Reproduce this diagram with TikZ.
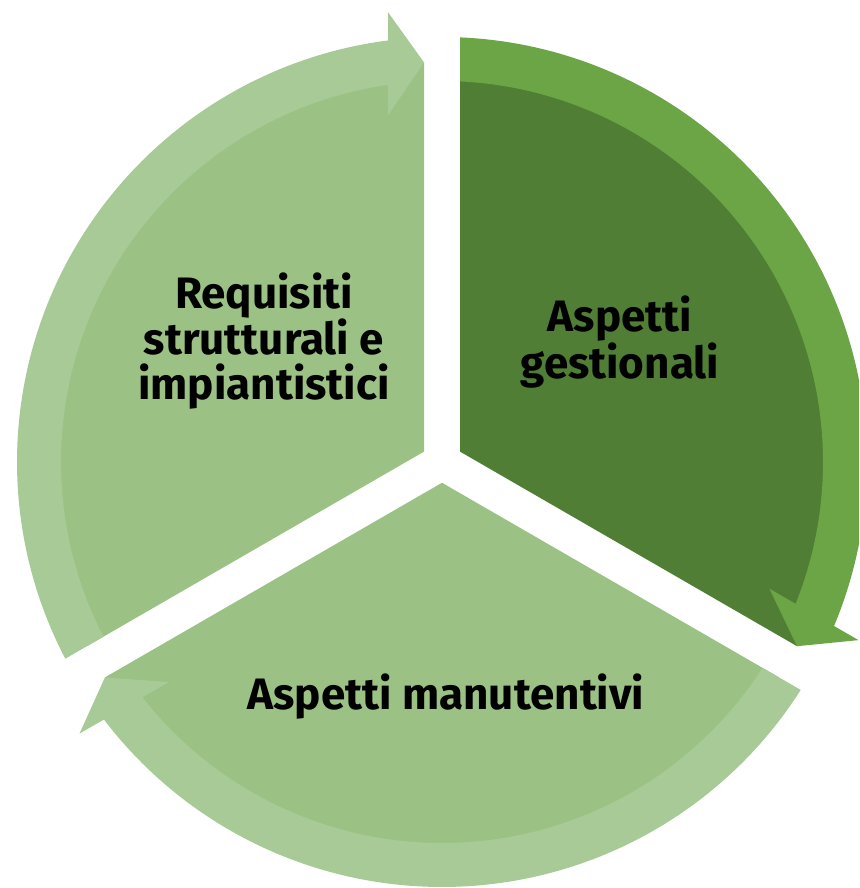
\documentclass[tikz,border=0pt]{standalone}
\usepackage{fontspec}
\setmainfont{Fira Sans}
\definecolor{pieL}{HTML}{9BC284}
\definecolor{arrL}{HTML}{A8CA97}
\definecolor{pieD}{HTML}{507E34}
\definecolor{arrD}{HTML}{6BA545}
\tikzset{
  lbl/.style={align=center, inner sep=0pt, text=black,
    font=\fontsize{44}{45}\selectfont\bfseries}
}
\begin{document}
\begin{tikzpicture}[x=1pt,y=1pt]
\useasboundingbox (0,0) rectangle (859,888);
\clip (0,0) rectangle (859,888);
\begin{scope}[shift={(442,426)}]
  \foreach \rot/\pc/\ac in {0/pieL/arrL, -120/pieD/arrD, -240/pieL/arrL} {
    \begin{scope}[rotate=\rot]
      \fill[\pc] (150:20.78) -- (207.42:400)
        arc[start angle=207.42, end angle=92.58, radius=400] -- cycle;
      \fill[\ac] (207.572:425)
        arc[start angle=207.572, end angle=97.30, radius=425]
        -- (96.846:453) -- (92.579:400) -- (98.85:351) -- (98.149:381)
        arc[start angle=98.149, end angle=207.292, radius=381] -- cycle;
    \end{scope}
  }
\end{scope}
\node[lbl] (req) at (264,547) {Requisiti\\strutturali e\\impiantistici};
\node[lbl] (ges) at (620,546) {Aspetti\\gestionali};
\node[lbl] (man) at (446,191) {Aspetti manutentivi};
\end{tikzpicture}
\end{document}
